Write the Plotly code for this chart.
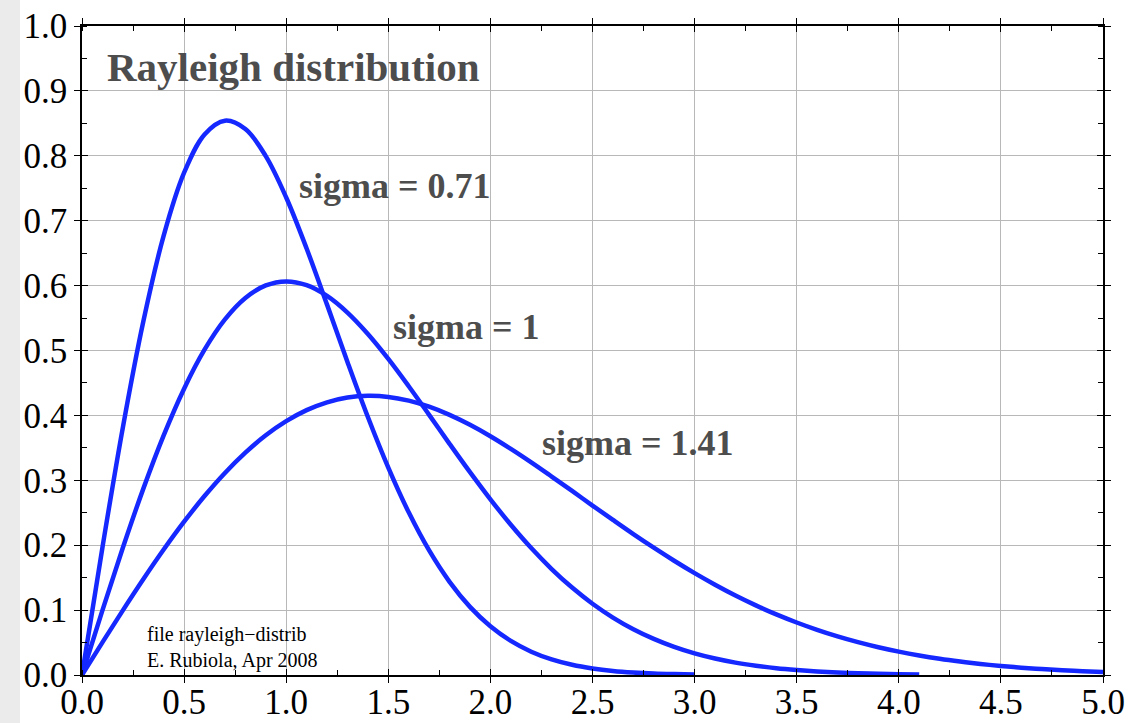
import plotly.graph_objects as go

x_s071 = [round(0.1 * i, 1) for i in range(31)]
y_s071 = [0, 0.1964, 0.3813, 0.5443, 0.6770, 0.7740, 0.8329, 0.8541, 0.8412, 0.7995,
          0.7358, 0.6571, 0.5707, 0.4824, 0.3975, 0.3195, 0.2506, 0.1919, 0.1436, 0.1050,
          0.0751, 0.0525, 0.0359, 0.0240, 0.0157, 0.0101, 0.0063, 0.0039, 0.0023, 0.0014, 0.0008]

x_s1 = [round(0.1 * i, 1) for i in range(42)]
y_s1 = [0, 0.0995, 0.1960, 0.2868, 0.3692, 0.4412, 0.5012, 0.5479, 0.5809, 0.6003,
        0.6065, 0.6007, 0.5841, 0.5584, 0.5254, 0.4870, 0.4449, 0.4008, 0.3562, 0.3125,
        0.2707, 0.2315, 0.1956, 0.1633, 0.1347, 0.1098, 0.0885, 0.0705, 0.0556, 0.0433,
        0.0333, 0.0254, 0.0191, 0.0143, 0.0105, 0.0077, 0.0055, 0.0039, 0.0028, 0.0019,
        0.0013, 0.0009]

x_s141 = [round(0.1 * i, 1) for i in range(51)]
y_s141 = [0, 0.0502, 0.0996, 0.1475, 0.1933, 0.2362, 0.2757, 0.3113, 0.3426, 0.3693,
          0.3911, 0.4081, 0.4202, 0.4275, 0.4301, 0.4285, 0.4227, 0.4134, 0.4008, 0.3855,
          0.3679, 0.3484, 0.3276, 0.3058, 0.2836, 0.2611, 0.2389, 0.2171, 0.1961, 0.1760,
          0.1569, 0.1391, 0.1225, 0.1073, 0.0934, 0.0809, 0.0696, 0.0595, 0.0506, 0.0428,
          0.0360, 0.0301, 0.0250, 0.0207, 0.0170, 0.0139, 0.0113, 0.0091, 0.0073, 0.0059,
          0.0047]

x_ticks = [0, 0.5, 1.0, 1.5, 2.0, 2.5, 3.0, 3.5, 4.0, 4.5, 5.0]
x_ticklabels = ["0.0", "0.5", "1.0", "1.5", "2.0", "2.5", "3.0", "3.5", "4.0", "4.5", "5.0"]
y_ticks = [0, 0.1, 0.2, 0.3, 0.4, 0.5, 0.6, 0.7, 0.8, 0.9, 1.0]
y_ticklabels = ["0.0", "0.1", "0.2", "0.3", "0.4", "0.5", "0.6", "0.7", "0.8", "0.9", "1.0"]

labels = ["sigma = 0.71", "sigma = 1", "sigma = 1.41"]
label_x = [1.055, 1.515, 2.245]
label_y = [0.753, 0.536, 0.357]

BLUE = "#1428ff"
SERIF = "Liberation Serif"

fig = go.Figure()
for xs, ys in [(x_s071, y_s071), (x_s1, y_s1), (x_s141, y_s141)]:
    fig.add_trace(go.Scatter(x=xs, y=ys, mode="lines", line=dict(color=BLUE, width=4.5, shape="spline"),
                             showlegend=False, hoverinfo="skip"))

# invisible trace on overlay axes to enable inside ticks
fig.add_trace(go.Scatter(x=[0], y=[0], xaxis="x2", yaxis="y2", mode="markers",
                         marker=dict(opacity=0), showlegend=False, hoverinfo="skip"))

L, R, T, B = 82, 28, 26, 48
W, H = 1131, 723
pw, ph = W - L - R, H - T - B

common = dict(showline=True, linecolor="black", linewidth=1.5, mirror="ticks",
              tickcolor="black", tickwidth=1.2, zeroline=False, automargin=False)

fig.update_layout(
    width=W, height=H,
    margin=dict(l=L, r=R, t=T, b=B, autoexpand=False),
    paper_bgcolor="white", plot_bgcolor="white",
    font=dict(family=SERIF, color="black"),
    xaxis=dict(range=[0, 5], tickvals=x_ticks, ticktext=x_ticklabels, ticks="outside", ticklen=6,
               showgrid=True, gridcolor="#b8b8b8", gridwidth=1,
               tickfont=dict(size=35, family=SERIF), ticklabelstandoff=-11,
               minor=dict(dtick=0.25, ticks="inside", ticklen=5, tickcolor="black", showgrid=False),
               **common),
    yaxis=dict(range=[0, 1], tickvals=y_ticks, ticktext=y_ticklabels, ticks="outside", ticklen=6,
               showgrid=True, gridcolor="#b8b8b8", gridwidth=1,
               tickfont=dict(size=35, family=SERIF), ticklabelstandoff=0,
               minor=dict(dtick=0.05, ticks="inside", ticklen=5, tickcolor="black", showgrid=False),
               **common),
    xaxis2=dict(overlaying="x", range=[0, 5], tickvals=x_ticks, ticks="inside", ticklen=6,
                showticklabels=False, showgrid=False, **common),
    yaxis2=dict(overlaying="y", range=[0, 1], tickvals=y_ticks, ticks="inside", ticklen=6,
                showticklabels=False, showgrid=False, **common),
)

# light gray strip at left edge
fig.add_shape(type="rect", xref="paper", yref="paper",
              x0=-L / pw, x1=(20 - L) / pw, y0=-B / ph, y1=1 + T / ph,
              fillcolor="#ebebeb", line=dict(width=0), layer="below")

fig.add_annotation(x=0.113, y=0.937, xref="x", yref="y", text="<b>Rayleigh distribution</b>",
                   showarrow=False, xanchor="left", yanchor="middle",
                   font=dict(size=41, color="#4d4d4d", family=SERIF))
for t, lx, ly in zip(labels, label_x, label_y):
    fig.add_annotation(x=lx, y=ly, xref="x", yref="y", text="<b>" + t + "</b>",
                       showarrow=False, xanchor="left", yanchor="middle",
                       font=dict(size=36, color="#4d4d4d", family=SERIF))

fig.add_annotation(x=0.31, y=0.043, xref="x", yref="y",
                   text="file rayleigh\u2212distrib<br>E. Rubiola, Apr 2008",
                   showarrow=False, xanchor="left", yanchor="middle", align="left",
                   font=dict(size=20, color="black", family=SERIF))

fig.write_html("out.html")
